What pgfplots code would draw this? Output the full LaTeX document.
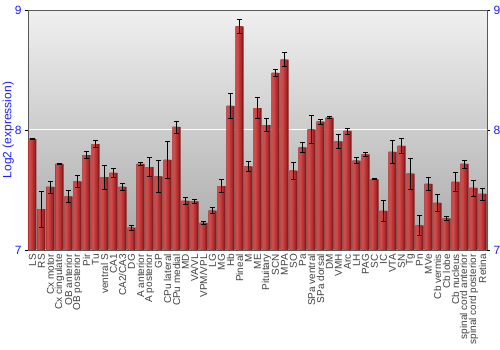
\documentclass[border=0pt]{standalone}
\usepackage{fontspec}
\setmainfont{Liberation Sans}
\usepackage{pgfplots}
\pgfplotsset{compat=1.18}
\usepackage{pgfplotstable}
\definecolor{lblue}{RGB}{30,30,255}
\definecolor{barA}{RGB}{135,28,28}
\definecolor{barB}{RGB}{165,40,40}
\definecolor{barC}{RGB}{190,55,55}
\definecolor{barD}{RGB}{205,75,75}
\pgfplotstableread{
x y e
1 7.925 0.005
2 7.34 0.15
3 7.525 0.05
4 7.717 0.005
5 7.447 0.05
6 7.572 0.05
7 7.79 0.03
8 7.883 0.03
9 7.608 0.10
10 7.642 0.04
11 7.525 0.03
12 7.186 0.02
13 7.717 0.015
14 7.69 0.08
15 7.614 0.13
16 7.75 0.155
17 8.025 0.05
18 7.41 0.03
19 7.406 0.015
20 7.225 0.01
21 7.328 0.025
22 7.533 0.055
23 8.20 0.107
24 8.864 0.058
25 7.697 0.04
26 8.183 0.086
27 8.04 0.055
28 8.475 0.03
29 8.586 0.058
30 7.661 0.07
31 7.856 0.04
32 8.005 0.12
33 8.07 0.02
34 8.103 0.01
35 7.906 0.06
36 7.992 0.025
37 7.744 0.025
38 7.797 0.014
39 7.589 0.004
40 7.325 0.085
41 7.817 0.095
42 7.867 0.065
43 7.636 0.13
44 7.206 0.086
45 7.55 0.053
46 7.392 0.07
47 7.264 0.015
48 7.567 0.08
49 7.717 0.033
50 7.517 0.067
51 7.467 0.05
}\datatable
\begin{document}
\begin{tikzpicture}
\begin{axis}[
  scale only axis,
  width=459pt, height=240pt,
  xmin=0.5, xmax=51.5,
  ymin=7, ymax=9,
  ytick={7,8,9},
  yticklabel pos=left,
  ymajorgrids,
  grid style={white, line width=1pt},
  axis background/.style={top color=gray!12, bottom color=gray!68},
  axis line style={gray!70!black},
  tick align=outside,
  major tick length=3pt,
  tick style={black, line width=0.8pt},
  xtick={1,...,51},
  xtick style={draw=none},
  xticklabels={LS,RS,Cx motor,Cx cingulate,OB anterior,OB posterior,Pir,Tu,ventral S,CA1,CA2/CA3,DG,A anterior,A posterior,GP,CPu lateral,CPu medial,MD,VA/VL,VPM/VPL,LG,MG,Hb,Pineal,M,ME,Pituitary,SCN,MPA,SO,Pa,SPa ventral,SPa dorsal,DM,VMH,Arc,LH,PAG,SC,IC,VTA,SN,Tg,Pn,MVe,Cb vermis,Cb lobe,Cb nucleus,spinal cord anterior,spinal cord posterior,Retina},
  x tick label style={rotate=90, anchor=east, font=\fontsize{10}{10}\selectfont, text=black!75, inner sep=1pt},
  y tick label style={font=\fontsize{12}{12}\selectfont, text=lblue},
  /pgf/number format/assume math mode=true,
  ylabel={Log2 (expression)},
  ylabel style={font=\fontsize{12}{12}\selectfont, text=lblue},
  ylabel shift=-6pt,
]
\addplot[ybar, bar width=8pt, bar shift=0pt, draw=none, fill=barA]
  table[x=x, y=y]{\datatable};
\addplot[ybar, bar width=6.5pt, bar shift=-0.75pt, draw=none, fill=barB]
  table[x=x, y=y]{\datatable};
\addplot[ybar, bar width=5pt, bar shift=-1.5pt, draw=none, fill=barC]
  table[x=x, y=y]{\datatable};
\addplot[ybar, bar width=2.5pt, bar shift=-2.25pt, draw=none, fill=barD,
  error bars/.cd, y dir=both, y explicit,
  error bar style={black, line width=0.8pt},
  error mark options={rotate=90, black, mark size=2.5pt, line width=0.8pt}]
  table[x=x, y=y, y error=e]{\datatable};
\end{axis}
\begin{axis}[
  scale only axis,
  width=459pt, height=240pt,
  xmin=0.5, xmax=51.5,
  ymin=7, ymax=9,
  ytick={7,8,9},
  axis y line*=right,
  axis x line=none,
  axis line style={gray!70!black},
  tick align=outside,
  major tick length=3pt,
  tick style={black, line width=0.8pt},
  y tick label style={font=\fontsize{12}{12}\selectfont, text=lblue},
  /pgf/number format/assume math mode=true,
]
\end{axis}
\pgfresetboundingbox
\useasboundingbox ([xshift=-28pt,yshift=-100pt]current axis.south west) rectangle ([xshift=13pt,yshift=10pt]current axis.north east);
\end{tikzpicture}
\end{document}
